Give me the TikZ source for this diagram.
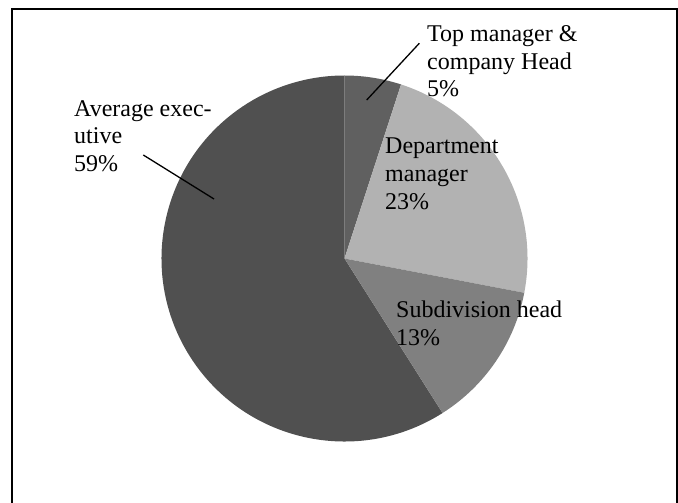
\documentclass[tikz,border=0pt]{standalone}
\usepackage{fontspec}
\setmainfont{Liberation Serif}
\definecolor{avgc}{RGB}{80,80,80}
\definecolor{topc}{RGB}{96,96,96}
\definecolor{depc}{RGB}{178,178,178}
\definecolor{subc}{RGB}{128,128,128}
\tikzset{
  lbl/.style={anchor=base west, inner sep=0pt, align=left, font=\fontsize{24}{27.8}\selectfont},
  leader/.style={draw=black, line width=1.3pt},
  frame/.style={draw=black, line width=2pt}
}
\begin{document}
\begin{tikzpicture}[x=1pt,y=-1pt]
\useasboundingbox (0,0) rectangle (678,503);
\fill[white] (0,0) rectangle (678,503);
\draw[frame] (12,520) -- (12,8.7) -- (676.5,8.7) -- (676.5,520);
\coordinate (c) at (344.5,258.5);
% slices (internal angle = -visual angle)
\fill[avgc] (c) -- +(57.6:183) arc[start angle=57.6, end angle=270, radius=183] -- cycle;
\fill[topc] (c) -- +(-90:183) arc[start angle=-90, end angle=-72, radius=183] -- cycle;
\fill[depc] (c) -- +(-72:183) arc[start angle=-72, end angle=10.8, radius=183] -- cycle;
\fill[subc] (c) -- +(10.8:183) arc[start angle=10.8, end angle=57.6, radius=183] -- cycle;
% labels (base anchor = baseline of last line)
\node[lbl] (top) at (427,96.8) {Top manager \&\\company Head\\5\%};
\node[lbl] (avg) at (74,171.7) {Average exec-\\utive\\59\%};
\node[lbl] (dep) at (385,209) {Department\\manager\\23\%};
\node[lbl] (sub) at (396,345.7) {Subdivision head\\13\%};
% leader lines
\coordinate (topa) at (419.3,43.3);
\coordinate (topb) at (366.7,100);
\coordinate (avga) at (143.3,155);
\coordinate (avgb) at (214,199);
\draw[leader] (topa) -- (topb);
\draw[leader] (avga) -- (avgb);
\end{tikzpicture}
\end{document}
